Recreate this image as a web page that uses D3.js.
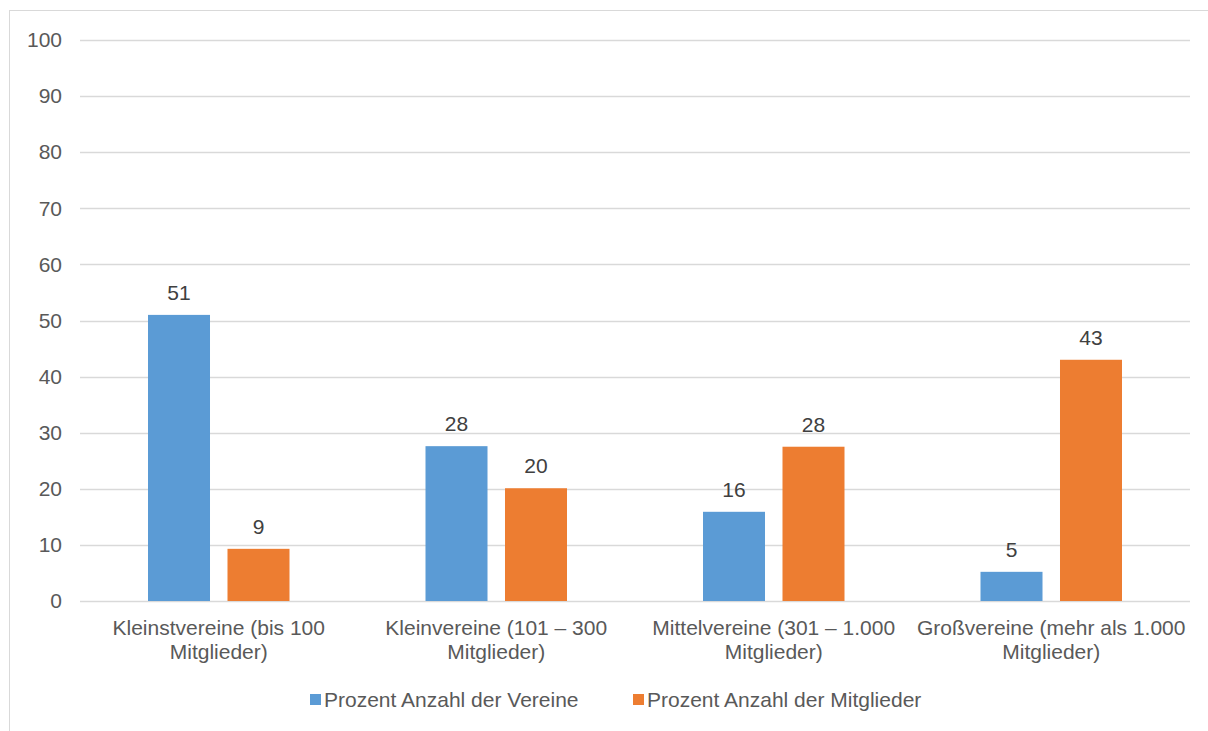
<!DOCTYPE html>
<html>
<head>
<meta charset="utf-8">
<script src="https://cdn.jsdelivr.net/npm/d3@7"></script>
<style>
  body { margin: 0; background: #fff; }
  svg { display: block; font-family: "Liberation Sans", Arial, sans-serif; }
</style>
</head>
<body>
<script>
const categories = ['Kleinstvereine', 'Kleinvereine', 'Mittelvereine', 'Großvereine'];
const categoryLines = [
    ['Kleinstvereine (bis 100', 'Mitglieder)'],
    ['Kleinvereine (101 – 300', 'Mitglieder)'],
    ['Mittelvereine (301 – 1.000', 'Mitglieder)'],
    ['Großvereine (mehr als 1.000', 'Mitglieder)']
];
const seriesNames = ['Prozent Anzahl der Vereine', 'Prozent Anzahl der Mitglieder'];
const vereine = [51.0, 27.6, 15.9, 5.2];
const mitglieder = [9.3, 20.1, 27.5, 43.0];
const yTicks = [0, 10, 20, 30, 40, 50, 60, 70, 80, 90, 100];
const colors = ['#5B9BD5', '#ED7D31'];

const width = 1208, height = 731;
const margin = { top: 40, right: 18, bottom: 130, left: 80 };
const fontSize = '21px';

const svg = d3.select('body')
    .append('svg')
    .attr('width', width)
    .attr('height', height);

// chart area border
svg.append('rect')
    .attr('x', 9.5).attr('y', 10.5)
    .attr('width', width).attr('height', height)
    .attr('fill', 'none')
    .attr('stroke', '#d9d9d9');

const x = d3.scaleBand()
    .domain(categories)
    .range([margin.left, width - margin.right]);

// two bars per group, 62px wide with a small gap
const groupPad = 68;
const x1 = d3.scaleBand()
    .domain([0, 1])
    .range([groupPad, x.bandwidth() - groupPad])
    .paddingInner(0.22);

const y = d3.scaleLinear()
    .domain([0, 100])
    .range([height - margin.bottom, margin.top]);

// gridlines
svg.append('g')
    .selectAll('line')
    .data(yTicks)
    .enter()
    .append('line')
    .attr('x1', margin.left)
    .attr('x2', width - margin.right)
    .attr('y1', d => Math.round(y(d)) + 0.5)
    .attr('y2', d => Math.round(y(d)) + 0.5)
    .attr('stroke', '#d9d9d9')
    .attr('stroke-width', 1.3);

// y axis labels
const yAxis = svg.append('g')
    .attr('transform', `translate(${margin.left},0)`)
    .call(d3.axisLeft(y).tickValues(yTicks).tickSize(0).tickPadding(18));
yAxis.select('.domain').remove();
yAxis.selectAll('text')
    .attr('fill', '#595959')
    .style('font-size', fontSize)
    .style('font-family', '"Liberation Sans", Arial, sans-serif');

const series = [vereine, mitglieder];

series.forEach((vals, s) => {
    const g = svg.append('g');
    g.selectAll('rect')
        .data(vals)
        .enter()
        .append('rect')
        .attr('x', (d, i) => x(categories[i]) + x1(s))
        .attr('y', d => y(d))
        .attr('width', x1.bandwidth())
        .attr('height', d => y(0) - y(d))
        .attr('fill', colors[s]);
    g.selectAll('text')
        .data(vals)
        .enter()
        .append('text')
        .attr('x', (d, i) => x(categories[i]) + x1(s) + x1.bandwidth() / 2)
        .attr('y', d => y(d) - 15)
        .attr('text-anchor', 'middle')
        .attr('fill', '#404040')
        .style('font-size', fontSize)
        .text(d => Math.round(d));
});

// x axis category labels
const xLab = svg.append('g');
categories.forEach((c, i) => {
    const t = xLab.append('text')
        .attr('x', x(c) + x.bandwidth() / 2)
        .attr('y', 635)
        .attr('text-anchor', 'middle')
        .attr('fill', '#595959')
        .style('font-size', fontSize);
    categoryLines[i].forEach((line, j) => {
        t.append('tspan')
            .attr('x', x(c) + x.bandwidth() / 2)
            .attr('dy', j === 0 ? 0 : 24)
            .text(line);
    });
});

// legend
const legendX = [310, 633];
seriesNames.forEach((name, s) => {
    svg.append('rect')
        .attr('x', legendX[s])
        .attr('y', 694)
        .attr('width', 11)
        .attr('height', 11)
        .attr('fill', colors[s]);
    svg.append('text')
        .attr('x', legendX[s] + 14)
        .attr('y', 707)
        .attr('fill', '#595959')
        .style('font-size', fontSize)
        .text(name);
});
</script>
</body>
</html>
